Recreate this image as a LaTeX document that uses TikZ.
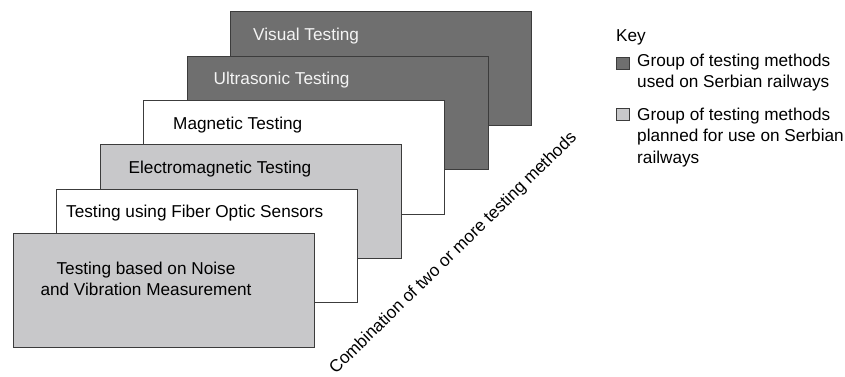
\documentclass[tikz,border=0pt]{standalone}
\usepackage{fontspec}
\setmainfont{Liberation Sans}
\definecolor{darkfill}{HTML}{6F6F6F}
\definecolor{lightfill}{HTML}{C8C8CA}
\definecolor{boxline}{HTML}{3C3C3C}
\definecolor{lighttext}{HTML}{F4F4F4}
\begin{document}
\begin{tikzpicture}[x=1pt,y=-1pt,
  box/.style={draw=boxline, line width=1pt, minimum width=301pt, minimum height=113.5pt, inner sep=0pt, anchor=north west},
  darkbox/.style={box, fill=darkfill},
  lightbox/.style={box, fill=lightfill},
  whitebox/.style={box, fill=white},
  txt/.style={font=\fontsize{17.2}{21.5}\selectfont, inner sep=0pt},
  lbl/.style={txt, anchor=base west},
  keybox/.style={draw=boxline, line width=0.8pt, minimum size=12.5pt, inner sep=0pt, anchor=north west}]
\useasboundingbox (0,0) rectangle (845,376);
% stacked boxes, back to front
\node[darkbox] (vis) at (230,11) {};
\node[lbl, text=lighttext] (vist) at ([xshift=23pt,yshift=-29pt]vis.north west) {Visual Testing};
\node[darkbox] (ult) at (186.5,55.5) {};
\node[lbl, text=lighttext] (ultt) at ([xshift=27pt,yshift=-28.5pt]ult.north west) {Ultrasonic Testing};
\node[whitebox] (mag) at (143,100) {};
\node[lbl] (magt) at ([xshift=30pt,yshift=-29pt]mag.north west) {Magnetic Testing};
\node[lightbox] (ele) at (99.5,144) {};
\node[lbl] (elet) at ([xshift=29pt,yshift=-29pt]ele.north west) {Electromagnetic Testing};
\node[whitebox] (fib) at (56,188.5) {};
\node[lbl] (fibt) at ([xshift=10pt,yshift=-29pt]fib.north west) {Testing using Fiber Optic Sensors};
\node[lightbox] (noi) at (13,233) {};
\node[txt, align=center] (noit) at (146,279) {Testing based on Noise\\and Vibration Measurement};
% rotated label
\node[txt, rotate=44.3] (comb) at (453.5,253.5) {Combination of two or more testing methods};
% key
\node[lbl] (key) at (616,41) {Key};
\node[keybox, fill=darkfill] (k1) at (616,56.5) {};
\node[txt, align=left, anchor=north west] (k1t) at (637,53.5) {Group of testing methods\\used on Serbian railways};
\node[keybox, fill=lightfill] (k2) at (616,107.5) {};
\node[txt, align=left, anchor=north west] (k2t) at (637,107.5) {Group of testing methods\\planned for use on Serbian\\railways};
\end{tikzpicture}
\end{document}
